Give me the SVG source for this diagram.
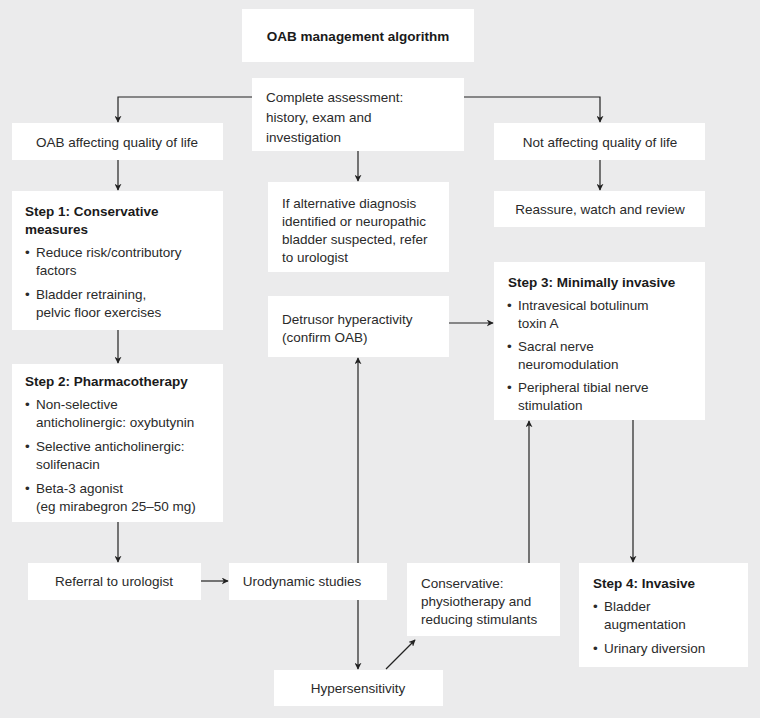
<svg xmlns="http://www.w3.org/2000/svg" width="760" height="718" viewBox="0 0 760 718">
<defs>
<style>
.b{fill:#fff}
text{font-family:"Liberation Sans",Arial,sans-serif;font-size:13.5px;fill:#2a2a2a}
.h{font-weight:bold;font-size:13.5px;fill:#1a1a1a}
.c{text-anchor:middle}
.l{stroke:#222;stroke-width:1.2;fill:none;marker-end:url(#a)}
</style>
<marker id="a" viewBox="0 0 10 10" refX="9" refY="5" markerWidth="7" markerHeight="7" orient="auto-start-reverse" markerUnits="userSpaceOnUse"><path d="M0,0 L10,5 L0,10 L3,5 Z" fill="#222"/></marker>
</defs>
<rect width="760" height="718" fill="#ebebec"/>
<g id="connectors">
<path class="l" d="M252,97 H118 V122"/>
<path class="l" d="M464,97 H600 V122"/>
<path class="l" d="M358,151 V181"/>
<path class="l" d="M118,160 V190"/>
<path class="l" d="M600,160 V190"/>
<path class="l" d="M118,330 V363"/>
<path class="l" d="M118,522 V562"/>
<path class="l" d="M201,581 H228"/>
<path class="l" d="M358,563 V358"/>
<path class="l" d="M358,600 V669"/>
<path class="l" d="M386,669 L415,640"/>
<path class="l" d="M529,563 V421"/>
<path class="l" d="M449,323 H493"/>
<path class="l" d="M633,420 V562"/>
</g>
<g id="title"><rect class="b" x="242" y="9" width="232" height="53"/><text class="h c" x="358" y="41">OAB management algorithm</text></g>
<g id="assessment"><rect class="b" x="252" y="78" width="212" height="73"/><text x="266" y="102">Complete assessment:</text><text x="266" y="122">history, exam and</text><text x="266" y="142">investigation</text></g>
<g id="oab"><rect class="b" x="12" y="123" width="211" height="37"/><text class="c" x="117" y="147">OAB affecting quality of life</text></g>
<g id="notaffecting"><rect class="b" x="494" y="123" width="211" height="37"/><text class="c" x="600" y="147">Not affecting quality of life</text></g>
<g id="step1"><rect class="b" x="12" y="191" width="211" height="139"/><text class="h" x="25" y="216">Step 1: Conservative</text><text class="h" x="25" y="234">measures</text>
<text x="25" y="257">•</text><text x="36" y="257">Reduce risk/contributory</text><text x="36" y="275">factors</text>
<text x="25" y="299">•</text><text x="36" y="299">Bladder retraining,</text><text x="36" y="317">pelvic floor exercises</text></g>
<g id="alt"><rect class="b" x="268" y="182" width="181" height="90"/><text x="282" y="208">If alternative diagnosis</text><text x="282" y="226">identified or neuropathic</text><text x="282" y="244">bladder suspected, refer</text><text x="282" y="262">to urologist</text></g>
<g id="reassure"><rect class="b" x="494" y="191" width="211" height="36"/><text class="c" x="600" y="214">Reassure, watch and review</text></g>
<g id="step3"><rect class="b" x="494" y="262" width="211" height="158"/><text class="h" x="508" y="287">Step 3: Minimally invasive</text>
<text x="507" y="310">•</text><text x="518" y="310">Intravesical botulinum</text><text x="518" y="328">toxin A</text>
<text x="507" y="351">•</text><text x="518" y="351">Sacral nerve</text><text x="518" y="369">neuromodulation</text>
<text x="507" y="392">•</text><text x="518" y="392">Peripheral tibial nerve</text><text x="518" y="410">stimulation</text></g>
<g id="detrusor"><rect class="b" x="268" y="296" width="181" height="61"/><text x="282" y="324">Detrusor hyperactivity</text><text x="282" y="342">(confirm OAB)</text></g>
<g id="step2"><rect class="b" x="12" y="364" width="211" height="158"/><text class="h" x="25" y="386">Step 2: Pharmacotherapy</text>
<text x="25" y="409">•</text><text x="36" y="409">Non-selective</text><text x="36" y="427">anticholinergic: oxybutynin</text>
<text x="25" y="451">•</text><text x="36" y="451">Selective anticholinergic:</text><text x="36" y="469">solifenacin</text>
<text x="25" y="493">•</text><text x="36" y="493">Beta-3 agonist</text><text x="36" y="511">(eg mirabegron 25–50 mg)</text></g>
<g id="referral"><rect class="b" x="28" y="563" width="173" height="37"/><text class="c" x="114" y="586">Referral to urologist</text></g>
<g id="urodynamic"><rect class="b" x="229" y="563" width="158" height="37"/><text class="c" x="302" y="586">Urodynamic studies</text></g>
<g id="conservative"><rect class="b" x="407" y="563" width="153" height="73"/><text x="421" y="588">Conservative:</text><text x="421" y="606">physiotherapy and</text><text x="421" y="624">reducing stimulants</text></g>
<g id="step4"><rect class="b" x="579" y="563" width="169" height="104"/><text class="h" x="593" y="588">Step 4: Invasive</text>
<text x="593" y="611">•</text><text x="604" y="611">Bladder</text><text x="604" y="629">augmentation</text>
<text x="593" y="653">•</text><text x="604" y="653">Urinary diversion</text></g>
<g id="hyper"><rect class="b" x="274" y="670" width="169" height="36"/><text class="c" x="358" y="693">Hypersensitivity</text></g>
</svg>
